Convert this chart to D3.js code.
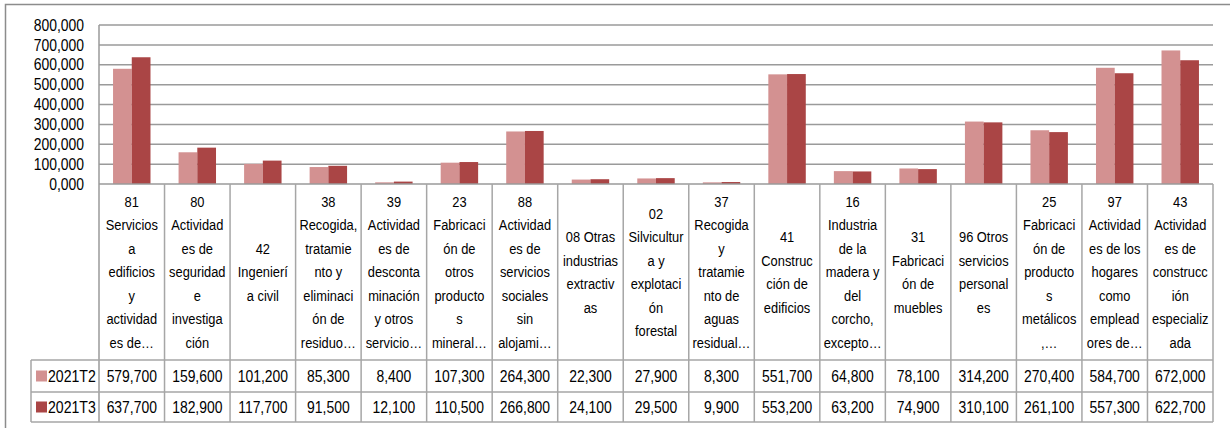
<!DOCTYPE html>
<html><head><meta charset="utf-8">
<script src="https://cdn.jsdelivr.net/npm/d3@7"></script>
<style>body{margin:0;background:#fff}svg{display:block}text{font-family:"Liberation Sans",Arial,sans-serif;fill:#000}</style>
</head><body><svg id="c" width="1230" height="428"></svg>
<script>
const categories = [
 "81\nServicios\na\nedificios\ny\nactividad\nes de…",
 "80\nActividad\nes de\nseguridad\ne\ninvestiga\nción",
 "42\nIngenierí\na civil",
 "38\nRecogida,\ntratamie\nnto y\neliminaci\nón de\nresiduo…",
 "39\nActividad\nes de\ndesconta\nminación\ny otros\nservicio…",
 "23\nFabricaci\nón de\notros\nproducto\ns\nmineral…",
 "88\nActividad\nes de\nservicios\nsociales\nsin\nalojami…",
 "08 Otras\nindustrias\nextractiv\nas",
 "02\nSilvicultur\na y\nexplotaci\nón\nforestal",
 "37\nRecogida\ny\ntratamie\nnto de\naguas\nresidual…",
 "41\nConstruc\nción de\nedificios",
 "16\nIndustria\nde la\nmadera y\ndel\ncorcho,\nexcepto…",
 "31\nFabricaci\nón de\nmuebles",
 "96 Otros\nservicios\npersonal\nes",
 "25\nFabricaci\nón de\nproducto\ns\nmetálicos\n,…",
 "97\nActividad\nes de los\nhogares\ncomo\nemplead\nores de…",
 "43\nActividad\nes de\nconstrucc\nión\nespecializ\nada"
];
const seriesNames = ["2021T2","2021T3"];
const seriesColors = ["#D39191","#AA4545"];
const values2021T2 = [579.7,159.6,101.2,85.3,8.4,107.3,264.3,22.3,27.9,8.3,551.7,64.8,78.1,314.2,270.4,584.7,672.0];
const values2021T3 = [637.7,182.9,117.7,91.5,12.1,110.5,266.8,24.1,29.5,9.9,553.2,63.2,74.9,310.1,261.1,557.3,622.7];
const yTicks = [0,100,200,300,400,500,600,700,800];

const seriesValues = [values2021T2, values2021T3];
const loc = d3.formatLocale({decimal:",", thousands:".", grouping:[3], currency:["","€"]});
const fmt = loc.format(".3f");

const svg = d3.select("#c");
const L = 99, R = 1213, T = 25, B = 184;
const rowLab = 360, row1 = 392, row2 = 422, legL = 31;
const grid = "#9a9a9a", tbl = "#a6a6a6";
const SX_NUM = 0.87, SX_LAB = 0.83;

function narrowText(parent, cx, cy, str, size, anchor, sx){
  const g = parent.append("g").attr("transform",`translate(${cx},${cy}) scale(${sx},1)`);
  return g.append("text").attr("x",0).attr("y",0).attr("dy","0.35em")
    .attr("text-anchor",anchor).style("font-size",size+"px").text(str);
}

// outer border
svg.append("path").attr("d","M5.5,428 V4.5 H1230").attr("fill","none").attr("stroke","#8c8c8c").attr("stroke-width",1.5);

const x = d3.scaleBand().domain(d3.range(categories.length)).range([L, R]).padding(0);
const bw = x.bandwidth();
const xs = d3.scaleBand().domain(d3.range(seriesNames.length)).range([bw*0.75/3.5, bw*2.75/3.5]).padding(0);
const y = d3.scaleLinear().domain([0,800]).range([B, T]);

// gridlines
svg.append("g").selectAll("line").data(yTicks.slice(1)).join("line")
  .attr("x1",L).attr("x2",R).attr("y1",d=>y(d)).attr("y2",d=>y(d))
  .attr("stroke",grid).attr("stroke-width",1.5);

// y axis
const yAxis = d3.axisLeft(y).tickValues(yTicks).tickFormat(fmt).tickSize(0).tickPadding(15/SX_NUM);
const ga = svg.append("g").attr("transform",`translate(${L},0)`).call(yAxis);
ga.select(".domain").remove();
ga.selectAll("text").style("font-size","16px").style("font-family",null).attr("fill","#000")
  .attr("transform",`scale(${SX_NUM},1)`);
svg.append("line").attr("x1",L).attr("x2",L).attr("y1",T).attr("y2",row2).attr("stroke",grid).attr("stroke-width",1.5);

// bars
seriesNames.forEach((s,si)=>{
  svg.append("g").selectAll("rect").data(seriesValues[si]).join("rect")
    .attr("x",(d,i)=>x(i)+xs(si)).attr("width",xs.bandwidth())
    .attr("y",d=>y(d)).attr("height",d=>B-y(d))
    .attr("fill",seriesColors[si]);
});

// table lines
const tg = svg.append("g").attr("stroke",tbl).attr("stroke-width",1.5);
tg.append("line").attr("x1",L).attr("x2",R).attr("y1",B).attr("y2",B).attr("stroke",grid);
[rowLab,row1,row2].forEach(yy=>tg.append("line").attr("x1",legL).attr("x2",R).attr("y1",yy).attr("y2",yy));
tg.append("line").attr("x1",legL).attr("x2",legL).attr("y1",rowLab).attr("y2",row2);
categories.forEach((c,i)=>tg.append("line").attr("x1",x(i)+bw).attr("x2",x(i)+bw).attr("y1",B).attr("y2",row2));

// category labels
const lh = 23.5, midY = (B+rowLab)/2;
categories.forEach((c,i)=>{
  const lines = c.split("\n");
  lines.forEach((ln,k)=>{
    narrowText(svg, x(i)+bw/2, midY+(k-(lines.length-1)/2)*lh, ln, 15.5, "middle", SX_LAB);
  });
});

// series rows
const rowMid = [(rowLab+row1)/2,(row1+row2)/2];
seriesNames.forEach((s,si)=>{
  svg.append("rect").attr("x",36).attr("y",rowMid[si]-5.5).attr("width",11).attr("height",11).attr("fill",seriesColors[si]);
  narrowText(svg, 48, rowMid[si], s, 16, "start", 0.88);
  seriesValues[si].forEach((d,i)=>{
    narrowText(svg, x(i)+bw/2, rowMid[si], fmt(d), 16, "middle", SX_NUM);
  });
});
</script></body></html>
